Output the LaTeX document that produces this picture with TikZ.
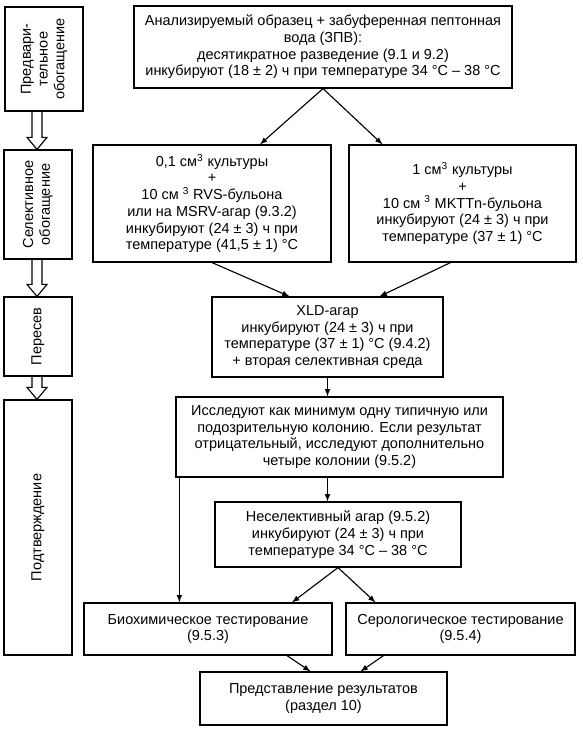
\documentclass[tikz,border=0pt]{standalone}
\usepackage{fontspec}
\setmainfont{Liberation Sans}
\usetikzlibrary{shapes,arrows,calc}

\begin{document}
\begin{tikzpicture}[x=0.025cm, y=-0.025cm, line width=0.8pt, >=latex,
  box/.style={draw, align=center, inner sep=2pt, font=\fontsize{10.3}{11.9}\selectfont},
  stage/.style={box, rotate=90}]
\useasboundingbox (0,0) rectangle (583,729);
\node[stage, minimum width=2.6cm, minimum height=1.95cm] (pre) at (44,59) {Предвари-\\тельное\\обогащение};
\node[stage, minimum width=2.725cm, minimum height=1.7cm] (sel) at (38,204.5) {Селективное\\обогащение};
\node[stage, minimum width=1.975cm, minimum height=1.7cm] (sub) at (38,336.5) {Пересев};
\node[stage, minimum width=6.375cm, minimum height=1.7cm] (conf) at (38,527.5) {Подтверждение};
\coordinate (ax) at (37,0);
\foreach \a/\b in {pre/sel, sel/sub, sub/conf} {
  \path (\a.west -| ax) coordinate (p) (\b.east -| ax) coordinate (q);
  \draw ($(p)+(-5,0)$) -- ($(q)+(-5,-12)$) -- ($(q)+(-10,-12)$) -- (q) -- ($(q)+(10,-12)$) -- ($(q)+(5,-12)$) -- ($(p)+(5,0)$);
}
\node[box, minimum width=9.45cm, minimum height=2.05cm] (sample) at (323,47) {Анализируемый образец + забуференная пептонная\\вода (ЗПВ):\\десятикратное разведение (9.1 и 9.2)\\инкубируют (18 ± 2) ч при температуре 34 °C – 38 °C};
\node[box, minimum width=5.95cm, minimum height=2.925cm] (rvs) at (212,203.5) {0,1 см\textsuperscript{3} культуры\\+\\10 см \textsuperscript{3} RVS-бульона\\или на MSRV-агар (9.3.2)\\инкубируют (24 ± 3) ч при\\температуре (41,5 ± 1) °C};
\node[box, minimum width=5.675cm, minimum height=2.925cm] (mktt) at (462.5,203.5) {1 см\textsuperscript{3} культуры\\+\\10 см \textsuperscript{3} MKTTn-бульона\\инкубируют (24 ± 3) ч при\\температуре (37 ± 1) °C};
\node[box, minimum width=5.775cm, minimum height=2cm] (xld) at (327.5,337) {XLD-агар\\инкубируют (24 ± 3) ч при\\температуре (37 ± 1) °C (9.4.2)\\+ вторая селективная среда};
\node[box, minimum width=8.175cm, minimum height=2cm] (colony) at (339.5,437) {Исследуют как минимум одну типичную или\\подозрительную колонию. Если результат\\отрицательный, исследуют дополнительно\\четыре колонии (9.5.2)};
\node[box, minimum width=6.15cm, minimum height=1.625cm] (nonsel) at (338,534.5) {Неселективный агар (9.5.2)\\инкубируют (24 ± 3) ч при\\температуре 34 °C – 38 °C};
\node[box, minimum width=6.2cm, minimum height=1.3cm] (bio) at (208,629) {Биохимическое тестирование\\(9.5.3)};
\node[box, minimum width=5.725cm, minimum height=1.3cm] (sero) at (460.5,629) {Серологическое тестирование\\(9.5.4)};
\node[box, minimum width=6.175cm, minimum height=1.325cm] (report) at (323.5,698.5) {Представление результатов\\(раздел 10)};
\coordinate (drop) at ($(colony.south west)+(4,0)$);
\draw[->] (sample.south) -- ($(rvs.north)+(48,0)$);
\draw[->] (sample.south) -- ($(mktt.north)+(-80,0)$);
\draw[->] (rvs.south) -- ($(xld.north)+(-38,0)$);
\draw[->] ($(mktt.south)+(-12,0)$) -- ($(xld.north)+(52,0)$);
\draw[->] (xld.south) -- (xld.south |- colony.north);
\draw[->] (colony.south -| xld.south) -- (nonsel.north -| xld.south);
\draw[->] (drop) -- (drop |- bio.north);
\draw[->] (nonsel.south) -- ($(bio.north)+(84,0)$);
\draw[->] (nonsel.south) -- ($(sero.north)+(-85,0)$);
\draw[->] ($(bio.south)+(79,0)$) -- ($(report.north)+(-13,0)$);
\draw[->] ($(sero.south)+(-77,0)$) -- ($(report.north)+(37,0)$);
\end{tikzpicture}
\end{document}
